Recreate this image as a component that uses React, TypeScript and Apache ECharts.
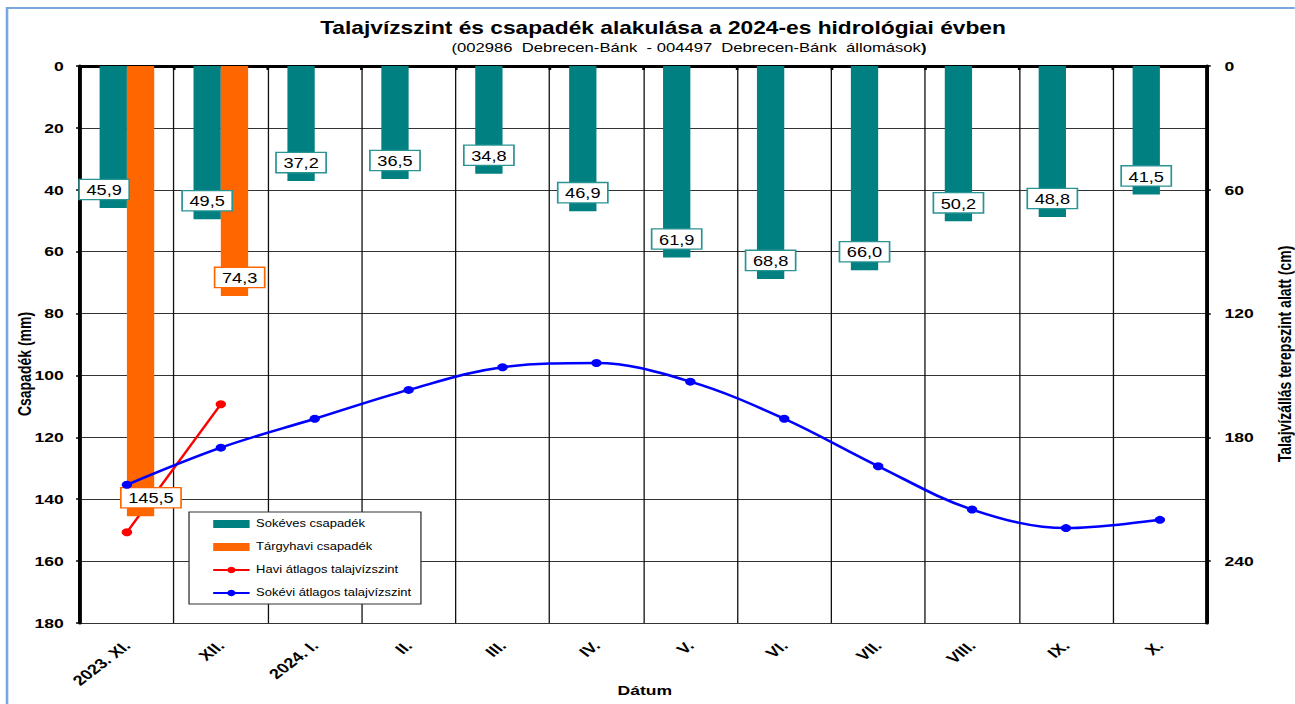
import React, { useEffect, useRef } from "react";
import * as echarts from "echarts";

// ---- data ----
const categories = ["2023. XI.", "XII.", "2024. I.", "II.", "III.", "IV.", "V.", "VI.", "VII.", "VIII.", "IX.", "X."];
const longTermPrecip = [45.9, 49.5, 37.2, 36.5, 34.8, 46.9, 61.9, 68.8, 66.0, 50.2, 48.8, 41.5];
const monthlyPrecip = [145.5, 74.3, null, null, null, null, null, null, null, null, null, null];
const monthlyGroundwater = [226, 164, null, null, null, null, null, null, null, null, null, null];
const longTermGroundwater = [203, 185, 171, 157, 146, 144, 153, 171, 194, 215, 224, 220];
const precipMin = 0;
const precipMax = 180;
const precipStep = 20;
const gwMin = 0;
const gwMax = 270;
const gwStep = 60;

const seriesNames = [
  "Sokéves csapadék",
  "Tárgyhavi csapadék",
  "Havi átlagos talajvízszint",
  "Sokévi átlagos talajvízszint",
];

// ---- layout / style ----
const SCREEN_W = 1295;
const SCREEN_H = 704;
const SX = 1.3; // reference is horizontally stretched
const CHART_W = SCREEN_W / SX;
const FONT = '"Liberation Sans", Arial, Helvetica, sans-serif';
const tealLabelOffsets: Record<number, number[]> = { 0: [-7, 0] };
const orangeLabelOffsets: Record<number, number[]> = { 0: [8, 0], 1: [4, 0] };

const fmt = (v: number) => v.toFixed(1).replace(".", ",");

export default function App() {
  const ref = useRef<HTMLDivElement>(null);

  useEffect(() => {
    if (!ref.current) return;
    const chart = echarts.init(ref.current, undefined, { renderer: "svg" });

    const labelBase = {
      show: true,
      position: "insideBottom",
      distance: 9,
      formatter: (p: any) => (p.value == null ? "" : fmt(Number(p.value))),
      backgroundColor: "#ffffff",
      borderWidth: 1.3,
      padding: [3, 5, 2, 5],
      fontSize: 14,
      fontFamily: FONT,
      color: "#000",
    };

    const option: any = {
      animation: false,
      backgroundColor: "#ffffff",
      textStyle: { fontFamily: FONT },
      grid: { left: 61.5, right: CHART_W - 928.5, top: 66, bottom: SCREEN_H - 623, containLabel: false },
      legend: {
        orient: "vertical",
        left: 163,
        top: 517,
        itemWidth: 28,
        itemHeight: 8,
        itemGap: 9,
        padding: 0,
        z: 6,
        textStyle: { fontSize: 10, lineHeight: 14, color: "#000", fontFamily: FONT },
        data: [
          { name: seriesNames[0], icon: "rect" },
          { name: seriesNames[1], icon: "rect" },
          { name: seriesNames[2] },
          { name: seriesNames[3] },
        ],
      },
      xAxis: {
        type: "category",
        data: categories,
        boundaryGap: true,
        axisLine: { lineStyle: { color: "#000", width: 3 } },
        axisTick: { show: true, length: 4, lineStyle: { color: "#000", width: 2 } },
        splitLine: { show: true, lineStyle: { color: "#111", width: 1 } },
        axisLabel: {
          interval: 0,
          rotate: 45,
          margin: 20,
          fontSize: 14,
          fontWeight: "bold",
          color: "#000",
          fontFamily: FONT,
        },
      },
      yAxis: [
        {
          type: "value",
          inverse: true,
          min: precipMin,
          max: precipMax,
          interval: precipStep,
          axisLine: { show: true, lineStyle: { color: "#000", width: 3 } },
          axisTick: { show: true, length: 3, lineStyle: { color: "#000", width: 1.5 } },
          splitLine: { show: true, lineStyle: { color: "#333", width: 1 } },
          axisLabel: { margin: 12.5, fontSize: 13.5, fontWeight: "bold", color: "#000", fontFamily: FONT },
        },
        {
          type: "value",
          inverse: true,
          position: "right",
          min: gwMin,
          max: gwMax,
          interval: gwStep,
          axisLine: { show: true, lineStyle: { color: "#000", width: 3 } },
          axisTick: { show: true, length: 3, lineStyle: { color: "#000", width: 1.5 } },
          splitLine: { show: false },
          axisLabel: {
            margin: 13.5,
            fontSize: 13.5,
            fontWeight: "bold",
            color: "#000",
            fontFamily: FONT,
            showMaxLabel: false,
            formatter: (v: number) => (v % gwStep === 0 ? String(v) : ""),
          },
        },
      ],
      series: [
        {
          name: seriesNames[0],
          type: "bar",
          yAxisIndex: 0,
          barWidth: 21,
          barGap: "0%",
          itemStyle: { color: "#008080" },
          z: 2,
          label: { ...labelBase, borderColor: "#2a9393" },
          data: longTermPrecip.map((v, i) =>
            tealLabelOffsets[i] ? { value: v, label: { offset: tealLabelOffsets[i] } } : v
          ),
        },
        {
          name: seriesNames[1],
          type: "bar",
          yAxisIndex: 0,
          barWidth: 21,
          barGap: "0%",
          itemStyle: { color: "#ff6600" },
          z: 2,
          label: { ...labelBase, borderColor: "#ff6600" },
          data: monthlyPrecip.map((v, i) =>
            v == null ? null : orangeLabelOffsets[i] ? { value: v, label: { offset: orangeLabelOffsets[i] } } : v
          ),
        },
        {
          name: seriesNames[2],
          type: "line",
          yAxisIndex: 1,
          symbol: "circle",
          symbolSize: 8,
          itemStyle: { color: "#ff0000" },
          lineStyle: { color: "#ff0000", width: 2 },
          z: 1.5,
          data: monthlyGroundwater,
        },
        {
          name: seriesNames[3],
          type: "line",
          yAxisIndex: 1,
          smooth: 0.35,
          symbol: "circle",
          symbolSize: 8,
          itemStyle: { color: "#0000ff" },
          lineStyle: { color: "#0000ff", width: 2.5 },
          z: 4,
          data: longTermGroundwater,
        },
      ],
      graphic: [
        {
          type: "rect",
          z: 100,
          silent: true,
          shape: { x: 5.4, y: 8, width: 1200, height: 900 },
          style: { fill: "none", stroke: "#79a8dc", lineWidth: 2 },
        },
        {
          type: "rect",
          z: 5,
          silent: true,
          shape: { x: 145.4, y: 512, width: 178.4, height: 92 },
          style: { fill: "#ffffff", stroke: "#333333", lineWidth: 1 },
        },
        {
          type: "text",
          x: 510,
          y: 28,
          style: {
            text: "Talajvízszint és csapadék alakulása a 2024-es hidrológiai évben",
            fontSize: 17.5,
            fontWeight: "bold",
            fontFamily: FONT,
            fill: "#000",
            align: "center",
            verticalAlign: "middle",
            textAlign: "center",
            textVerticalAlign: "middle",
          },
        },
        {
          type: "text",
          x: 530,
          y: 48,
          style: {
            text: "{n|(002986  Debrecen-Bánk  - 004497  Debrecen-Bánk  állomások}{b|)}",
            rich: {
              n: { fontSize: 12.8, fontFamily: FONT, fill: "#000" },
              b: { fontSize: 12.8, fontFamily: FONT, fontWeight: "bold", fill: "#000" },
            },
            fill: "#000",
            align: "center",
            verticalAlign: "middle",
            textAlign: "center",
            textVerticalAlign: "middle",
          },
        },
        {
          type: "text",
          x: 496,
          y: 690,
          style: {
            text: "Dátum",
            fontSize: 13.5,
            fontWeight: "bold",
            fontFamily: FONT,
            fill: "#000",
            align: "center",
            verticalAlign: "middle",
            textAlign: "center",
            textVerticalAlign: "middle",
          },
        },
        {
          type: "text",
          x: 18.5,
          y: 364,
          rotation: Math.PI / 2,
          style: {
            text: "Csapadék (mm)",
            fontSize: 14,
            fontWeight: "bold",
            fontFamily: FONT,
            fill: "#000",
            align: "center",
            verticalAlign: "middle",
            textAlign: "center",
            textVerticalAlign: "middle",
          },
        },
        {
          type: "text",
          x: 988,
          y: 354,
          rotation: Math.PI / 2,
          style: {
            text: "Talajvízállás terepszint alatt (cm)",
            fontSize: 14,
            fontWeight: "bold",
            fontFamily: FONT,
            fill: "#000",
            align: "center",
            verticalAlign: "middle",
            textAlign: "center",
            textVerticalAlign: "middle",
          },
        },
      ],
    };

    chart.setOption(option);
    return () => chart.dispose();
  }, []);

  return (
    <div
      ref={ref}
      style={{
        position: "fixed",
        left: 0,
        top: 0,
        width: CHART_W,
        height: SCREEN_H,
        transform: `scaleX(${SX})`,
        transformOrigin: "0 0",
        background: "#fff",
      }}
    />
  );
}
